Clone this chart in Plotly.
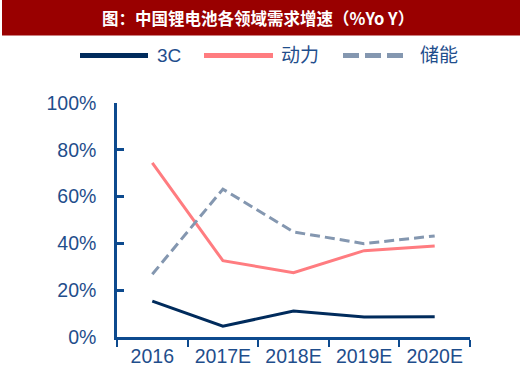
import plotly.graph_objects as go

categories = ["2016", "2017E", "2018E", "2019E", "2020E"]
s_3c = [15.3, 4.6, 11.1, 8.5, 8.7]
s_power = [74.4, 32.6, 27.5, 36.9, 38.9]
s_storage = [26.8, 63.2, 44.9, 39.9, 43.2]
y_ticks = [0, 20, 40, 60, 80, 100]
y_tick_labels = ["0%", "20%", "40%", "60%", "80%", "100%"]
series_names = ["3C", "动力", "储能"]

C3 = "#002b5c"
CP = "#ff7c80"
CS = "#8497b0"
AX = "#0d4a8e"
TXT = "#1f4e8c"

fig = go.Figure()
fig.add_trace(go.Scatter(x=categories, y=s_3c, mode="lines", name=series_names[0],
                         line=dict(color=C3, width=3), showlegend=False))
fig.add_trace(go.Scatter(x=categories, y=s_power, mode="lines", name=series_names[1],
                         line=dict(color=CP, width=3), showlegend=False))
fig.add_trace(go.Scatter(x=categories, y=s_storage, mode="lines", name=series_names[2],
                         line=dict(color=CS, width=3, dash="10px,5px"), showlegend=False))

L, R, T, B = 117, 50, 103, 43
W, H = 520, 380
pw = W - L - R
ph = H - T - B

def px(x):
    return (x - L) / pw

def py(y):
    return (H - B - y) / ph

shapes = []
annotations = []
# Title bar
shapes.append(dict(type="rect", xref="paper", yref="paper", x0=px(2), x1=px(521), y0=py(35.5), y1=py(-1),
                   fillcolor="#990000", line=dict(width=0), layer="below"))
annotations.append(dict(xref="paper", yref="paper", x=px(258), y=py(18.5), showarrow=False,
                        text="<b>图：中国锂电池各领域需求增速（%Yo Y）</b>",
                        font=dict(family="Noto Sans CJK SC", size=16.5, color="white"),
                        xanchor="center", yanchor="middle"))
# Manual legend
leg_y = 55.5
items = [(80, 148, 155, C3, "solid", series_names[0]),
         (204, 273, 279, CP, "solid", series_names[1]),
         (343, 403, 418, CS, "dash", series_names[2])]
for x0, x1, tx, col, dash, name in items:
    if dash == "solid":
        shapes.append(dict(type="line", xref="paper", yref="paper", x0=px(x0), x1=px(x1),
                           y0=py(leg_y), y1=py(leg_y), line=dict(color=col, width=5)))
    else:
        seg = (x1 - x0 + 6) / 3
        for k in range(3):
            a = x0 + k * seg
            shapes.append(dict(type="line", xref="paper", yref="paper", x0=px(a), x1=px(a + seg - 6),
                               y0=py(leg_y), y1=py(leg_y), line=dict(color=col, width=5)))
    annotations.append(dict(xref="paper", yref="paper", x=px(tx), y=py(leg_y), showarrow=False,
                            text=name, xanchor="left", yanchor="middle",
                            font=dict(family="Liberation Sans, Noto Sans CJK SC", size=19, color=TXT)))

fig.update_layout(
    width=W, height=H,
    margin=dict(l=L, r=R, t=T, b=B, pad=0, autoexpand=False),
    paper_bgcolor="white", plot_bgcolor="white",
    shapes=shapes, annotations=annotations,
    font=dict(family="Liberation Sans", color=TXT),
)
fig.update_xaxes(type="category", range=[-0.5, len(categories) - 0.5],
                 showgrid=False, zeroline=False, showline=True,
                 linecolor=AX, linewidth=2.5, ticks="outside", tickson="boundaries",
                 ticklen=7, tickwidth=2, tickcolor=AX,
                 tickfont=dict(family="Liberation Sans", size=19.5, color=TXT))
fig.update_yaxes(range=[0, 100], tickvals=y_ticks, ticktext=y_tick_labels,
                 showgrid=False, zeroline=False, showline=True,
                 linecolor=AX, linewidth=2.5, ticks="inside", ticklen=7, tickwidth=2.5,
                 tickcolor=AX, ticklabelstandoff=14,
                 tickfont=dict(family="Liberation Sans", size=19.5, color=TXT))

fig.write_html("out.html", config={"displayModeBar": False},
               post_script="document.body.style.margin='0';document.body.style.overflow='hidden';")
